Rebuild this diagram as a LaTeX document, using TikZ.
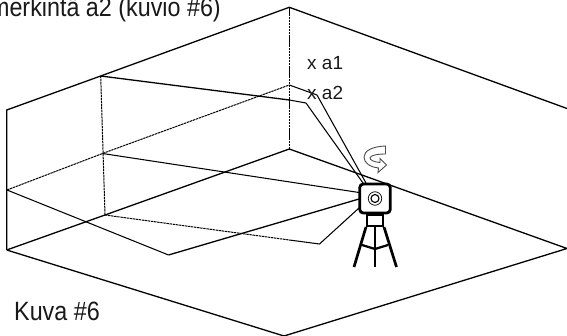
\documentclass[tikz,border=0pt]{standalone}
\usepackage{fontspec}
\setmainfont{Liberation Sans}
\newfontfamily\narrowfont[FakeStretch=0.88]{Liberation Sans}
\tikzset{
  wall/.style={draw=black,line width=1.3pt,line join=miter},
  fine/.style={draw=black,line width=1.05pt,line join=miter},
  hidden/.style={draw=black,line width=1pt,dash pattern=on 2.4pt off 0.7pt},
  label/.style={inner sep=0pt,anchor=base west,text=black!90},
  thick line/.style={draw=black,line width=2.7pt,line cap=butt,line join=round},
}
\begin{document}
\begin{tikzpicture}[x=1pt,y=-1pt]
\useasboundingbox (0,0) rectangle (567,336);
% room vertices
\coordinate (LT) at (6.7,110);
\coordinate (LB) at (6.7,250);
\coordinate (BT) at (100.7,76);
\coordinate (BB) at (105,215);
\coordinate (CT) at (289.3,7.3);
\coordinate (CB) at (289.3,149);
\coordinate (RT) at (567,108.5);
\coordinate (RB) at (567,248.5);
\coordinate (FB) at (284,336);
% laser polygon vertices
\coordinate (P1) at (306,103);
\coordinate (P2) at (7,190);
\coordinate (P3) at (102.5,153.5);
\coordinate (P4) at (289.3,85);
\coordinate (P5) at (317,95);
\coordinate (P6) at (168.5,255);
\coordinate (P7) at (319.5,244);
\coordinate (C1) at (289.3,100);
\coordinate (C2) at (289.3,240);
% instrument attachment points
\coordinate (I1) at (363,183);
\coordinate (I2) at (366,183);
\coordinate (I3) at (359,192.5);
\coordinate (I4) at (359,199);
\coordinate (I5) at (359,208);
% room
\draw[wall] (LB) -- (LT) -- (BT) -- (CT) -- (RT);
\draw[wall] (LB) -- (BB) -- (CB) -- (RB) -- (FB) -- (LB);
\draw[hidden] (BT) -- (BB);
\draw[hidden] (CT) -- (CB);
% laser lines
\draw[wall] (BT) -- (C1);
\draw[fine] (C1) -- (P1) -- (I1);
\draw[hidden] (P2) -- (P3) -- (P4);
\draw[fine] (P4) -- (P5) -- (I2);
\draw[fine] (P3) -- (I3);
\draw[fine] (P2) -- (P6);
\draw[wall] (P6) -- (I4);
\draw[hidden] (BB) -- (C2);
\draw[fine] (C2) -- (P7) -- (I5);
% instrument
\node[draw=black,line width=2.8pt,rounded corners=3.5pt,fill=white,minimum width=30.5pt,minimum height=29pt,inner sep=0pt] (body) at (375,198.5) {};
\node[circle,draw=black,line width=0.7pt,minimum size=13.5pt,inner sep=0pt] (lensouter) at (body.center) {};
\node[circle,draw=black,line width=1.1pt,minimum size=8pt,inner sep=0pt] (lensinner) at (body.center) {};
\node[draw=black,line width=2pt,minimum width=16pt,minimum height=11pt,inner sep=0pt,anchor=north] (neck) at (375,214) {};
\coordinate (F1) at (354,267);
\coordinate (F2) at (375,267);
\coordinate (F3) at (396.5,267);
\draw[thick line] (neck.south west) -- (F1);
\draw[thick line] (neck.south) -- (F2);
\draw[thick line] (neck.south east) -- (F3);
\coordinate (S1) at (362,245);
\coordinate (S2) at (375,249);
\coordinate (S3) at (388,245);
\draw[draw=black,line width=2.2pt] (S1) -- (S2) -- (S3);
% rotation arrow
\draw[draw=black!70,line width=0.9pt,fill=white,line join=miter]
  (385.5,146) .. controls (372,146.5) and (364,151) .. (364,157)
  .. controls (364,163) and (370,167) .. (378.5,168)
  -- (378,172.5) -- (386.5,165) -- (380,158.5) -- (380,162.5)
  .. controls (374,162) and (370,160) .. (370,158)
  .. controls (370,155.5) and (377,154) .. (385.5,154) -- cycle;
% labels
\node[label,font=\fontsize{19}{19}\selectfont] (a1) at (307,70) {x a1};
\node[label,font=\fontsize{19}{19}\selectfont] (a2) at (307,100) {x a2};
\node[label,anchor=base east,font=\narrowfont\fontsize{26.5}{26.5}\selectfont] (title) at (221,17) {merkintä a2 (kuvio \#6)};
\node[label,font=\narrowfont\fontsize{26.5}{26.5}\selectfont] (kuva) at (14,320) {Kuva \#6};
\end{tikzpicture}
\end{document}
